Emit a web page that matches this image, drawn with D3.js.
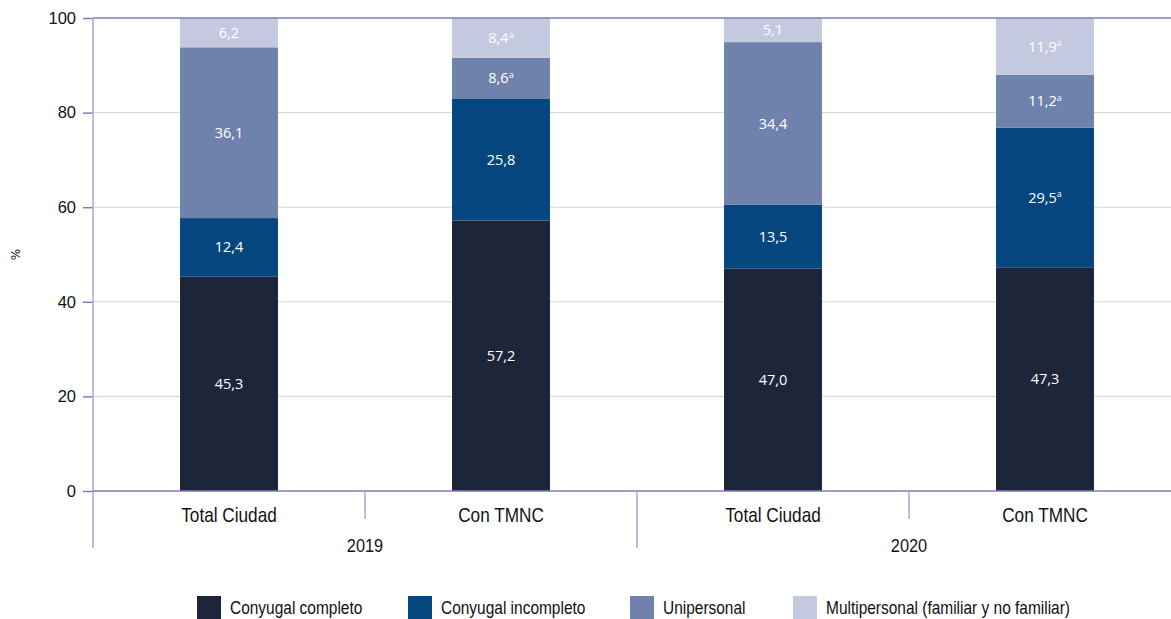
<!DOCTYPE html>
<html>
<head>
<meta charset="utf-8">
<script src="https://cdn.jsdelivr.net/npm/d3@7/dist/d3.min.js"></script>
<style>
  html, body { margin: 0; padding: 0; background: #ffffff; }
  svg { display: block; }
  .narrow { font-family: "Liberation Sans", Arial, sans-serif; }
</style>
</head>
<body>
<svg id="chart" width="1171" height="619"></svg>
<script>
// Household structure by type, Total Ciudad vs. households with TMNC, 2019–2020
const categories = ["Total Ciudad", "Con TMNC", "Total Ciudad", "Con TMNC"];
const years = ["2019", "2020"];
const seriesNames = ["Conyugal completo", "Conyugal incompleto", "Unipersonal", "Multipersonal (familiar y no familiar)"];
const seriesColors = ["#1c2638", "#05467e", "#6f82ab", "#c5c9df"];

const conyugalCompleto   = [45.3, 57.2, 47.0, 47.3];
const conyugalIncompleto = [12.4, 25.8, 13.5, 29.5];
const unipersonal        = [36.1, 8.6, 34.4, 11.2];
const multipersonal      = [6.2, 8.4, 5.1, 11.9];

// superscript "a" note markers per series
const notaIncompleto    = [false, false, false, true];
const notaUnipersonal   = [false, true, false, true];
const notaMultipersonal = [false, true, false, true];

const yTicks = [0, 20, 40, 60, 80, 100];

const seriesValues = [conyugalCompleto, conyugalIncompleto, unipersonal, multipersonal];
const seriesNotes = [[false, false, false, false], notaIncompleto, notaUnipersonal, notaMultipersonal];

const rows = categories.map((c, i) => {
  const r = { key: i, category: c, year: years[Math.floor(i / 2)] };
  seriesNames.forEach((s, j) => { r[s] = seriesValues[j][i]; });
  return r;
});

const svg = d3.select("#chart");
const plotLeft = 93, plotRight = 1181, plotTop = 18, plotBottom = 491;
const condense = 0.86; // horizontal squeeze for the condensed label face

const x = d3.scaleBand()
  .domain(rows.map(r => r.key))
  .range([plotLeft, plotRight])
  .paddingInner(0.64)
  .paddingOuter(0.32);

const y = d3.scaleLinear().domain([0, 100]).range([plotBottom, plotTop]);

const axisDark = "#7f7bbb";
const axisLight = "#aaa7d4";

// gridlines
svg.append("g")
  .selectAll("line")
  .data(yTicks.filter(t => t > 0 && t < 100))
  .join("line")
  .attr("x1", plotLeft).attr("x2", plotRight)
  .attr("y1", d => y(d)).attr("y2", d => y(d))
  .attr("stroke", "#d4d4d4").attr("stroke-width", 1);

// stacked bars
const stack = d3.stack().keys(seriesNames);
const stacked = stack(rows);

const fmt = v => d3.format(".1f")(v).replace(".", ",");

const layers = svg.append("g")
  .selectAll("g")
  .data(stacked)
  .join("g")
  .attr("fill", (d, i) => seriesColors[i]);

layers.selectAll("rect")
  .data(d => d)
  .join("rect")
  .attr("x", d => x(d.data.key))
  .attr("width", x.bandwidth())
  .attr("y", d => y(d[1]))
  .attr("height", d => y(d[0]) - y(d[1]));

// value labels
stacked.forEach((layer, si) => {
  layer.forEach((d, ci) => {
    const t = svg.append("text")
      .attr("x", x(d.data.key) + x.bandwidth() / 2)
      .attr("y", y((d[0] + d[1]) / 2))
      .attr("dy", "0.35em")
      .attr("text-anchor", "middle")
      .attr("fill", "#ffffff")
      .attr("font-family", "'Open Sans', sans-serif")
      .attr("font-size", 14.5);
    t.append("tspan").text(fmt(seriesValues[si][ci]));
    if (seriesNotes[si][ci]) {
      t.append("tspan").text("a")
        .attr("font-size", 9)
        .attr("dy", "-0.6em");
    }
  });
});

// top frame line
svg.append("line")
  .attr("x1", plotLeft).attr("x2", plotRight)
  .attr("y1", y(100)).attr("y2", y(100))
  .attr("stroke", axisDark).attr("stroke-width", 1.5);

// y axis
const yAxis = d3.axisLeft(y).tickValues(yTicks).tickSize(10).tickPadding(7);
const yg = svg.append("g").attr("transform", `translate(${plotLeft},0)`).call(yAxis);
yg.select(".domain").remove();
yg.selectAll(".tick line").attr("stroke", axisDark).attr("stroke-width", 1.5);
yg.selectAll(".tick text")
  .attr("font-family", "'Liberation Sans', sans-serif")
  .attr("font-size", 16.5)
  .attr("fill", "#111111");

// vertical axis line and group separators
svg.append("line")
  .attr("x1", plotLeft).attr("x2", plotLeft)
  .attr("y1", plotTop).attr("y2", 548)
  .attr("stroke", axisLight).attr("stroke-width", 1.5);

const step = x.step();
[1, 2, 3].forEach(i => {
  const sx = plotLeft + step * i;
  svg.append("line")
    .attr("x1", sx).attr("x2", sx)
    .attr("y1", plotBottom).attr("y2", i === 2 ? 548 : 519)
    .attr("stroke", axisLight).attr("stroke-width", 1.5);
});

svg.append("line")
  .attr("x1", plotLeft).attr("x2", plotRight)
  .attr("y1", y(0)).attr("y2", y(0))
  .attr("stroke", axisDark).attr("stroke-width", 1.5);

// category labels
svg.append("g").selectAll("text")
  .data(rows)
  .join("text")
  .attr("class", "narrow")
  .attr("transform", d => `translate(${x(d.key) + x.bandwidth() / 2},522) scale(${condense},1)`)
  .attr("text-anchor", "middle")
  .attr("font-size", 20)
  .attr("fill", "#111111")
  .text(d => d.category);

// year labels
svg.append("g").selectAll("text")
  .data(years)
  .join("text")
  .attr("class", "narrow")
  .attr("transform", (d, i) => `translate(${plotLeft + step * (2 * i + 1)},552) scale(${condense},1)`)
  .attr("text-anchor", "middle")
  .attr("font-size", 19)
  .attr("fill", "#111111")
  .text(d => d);

// y axis title
svg.append("text")
  .attr("transform", `translate(20,${(plotTop + plotBottom) / 2}) rotate(-90)`)
  .attr("text-anchor", "middle")
  .attr("font-family", "'DejaVu Sans', sans-serif")
  .attr("font-size", 12)
  .attr("fill", "#111111")
  .text("%");

// legend
const legendX = [197, 408, 630, 793];
const lg = svg.append("g");
seriesNames.forEach((s, i) => {
  lg.append("rect")
    .attr("x", legendX[i]).attr("y", 596)
    .attr("width", 24).attr("height", 23)
    .attr("fill", seriesColors[i]);
  lg.append("text")
    .attr("class", "narrow")
    .attr("transform", `translate(${legendX[i] + 33},614) scale(${condense},1)`)
    .attr("font-size", 18)
    .attr("fill", "#111111")
    .text(s);
});
</script>
</body>
</html>
